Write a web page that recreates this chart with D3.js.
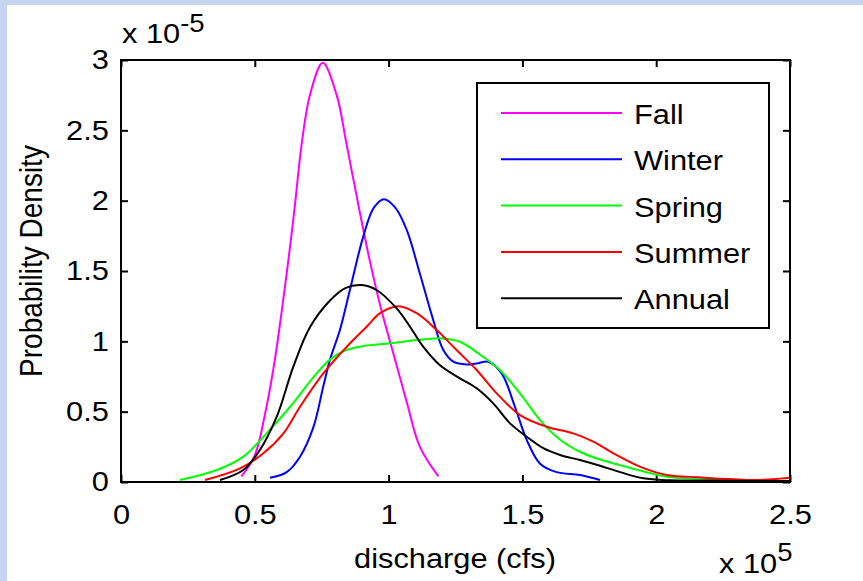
<!DOCTYPE html>
<html>
<head>
<meta charset="utf-8">
<script src="https://cdn.jsdelivr.net/npm/d3@7"></script>
<style>
  body { margin: 0; background: #c6d5f1; }
  svg { display: block; }
  text { font-family: "Liberation Sans", Arial, Helvetica, sans-serif; fill: #000; }
</style>
</head>
<body>
<div id="viz"></div>
<script>
// kernel density estimates of discharge, x in 1e5 cfs, y in 1e-5
var seasons = ["Fall", "Winter", "Spring", "Summer", "Annual"];
var lineColors = ["#ff00ff", "#0000ff", "#00ff00", "#ff0000", "#000000"];

var fallX = [0.45, 0.50, 0.54, 0.575, 0.625, 0.65, 0.675, 0.706, 0.754, 0.806, 0.843, 0.887, 0.93, 0.968, 1.005, 1.043, 1.069, 1.117, 1.186];
var fallY = [0.04, 0.19, 0.50, 0.87, 1.57, 1.97, 2.40, 2.75, 2.98, 2.75, 2.40, 1.97, 1.57, 1.26, 1.0, 0.74, 0.56, 0.25, 0.04];

var winterX = [0.557, 0.619, 0.669, 0.719, 0.756, 0.781, 0.818, 0.856, 0.906, 0.945, 0.983, 1.025, 1.068, 1.117, 1.167, 1.204, 1.242, 1.292, 1.335, 1.373, 1.423, 1.472, 1.516, 1.566, 1.628, 1.715, 1.79];
var winterY = [0.03, 0.07, 0.18, 0.39, 0.68, 0.87, 1.08, 1.37, 1.75, 1.95, 2.01, 1.95, 1.79, 1.48, 1.15, 0.94, 0.855, 0.835, 0.845, 0.855, 0.77, 0.535, 0.30, 0.13, 0.07, 0.05, 0.014];

var springX = [0.22, 0.358, 0.457, 0.544, 0.632, 0.731, 0.781, 0.831, 0.906, 1.005, 1.105, 1.204, 1.267, 1.342, 1.416, 1.491, 1.566, 1.641, 1.715, 1.79, 1.865, 1.952, 2.039, 2.164, 2.33];
var springY = [0.014, 0.085, 0.18, 0.346, 0.535, 0.772, 0.87, 0.93, 0.967, 0.986, 1.009, 1.021, 0.997, 0.905, 0.796, 0.63, 0.44, 0.30, 0.215, 0.16, 0.12, 0.075, 0.038, 0.024, 0.015];

var summerX = [0.314, 0.445, 0.532, 0.607, 0.669, 0.756, 0.843, 0.918, 0.968, 1.036, 1.105, 1.18, 1.254, 1.329, 1.404, 1.491, 1.591, 1.69, 1.765, 1.84, 1.939, 2.039, 2.164, 2.288, 2.375, 2.463, 2.5];
var summerY = [0.014, 0.097, 0.204, 0.346, 0.535, 0.772, 0.96, 1.104, 1.2, 1.25, 1.2, 1.08, 0.938, 0.796, 0.63, 0.476, 0.393, 0.346, 0.287, 0.204, 0.109, 0.05, 0.033, 0.019, 0.014, 0.024, 0.03];

var annualX = [0.37, 0.457, 0.519, 0.582, 0.644, 0.706, 0.781, 0.84, 0.899, 0.955, 1.03, 1.08, 1.13, 1.192, 1.267, 1.329, 1.391, 1.454, 1.516, 1.578, 1.641, 1.715, 1.79, 1.865, 1.952, 2.05, 2.2, 2.35, 2.5];
var annualY = [0.014, 0.085, 0.227, 0.464, 0.82, 1.10, 1.29, 1.38, 1.40, 1.365, 1.234, 1.104, 0.96, 0.83, 0.737, 0.666, 0.559, 0.417, 0.322, 0.24, 0.192, 0.156, 0.115, 0.07, 0.026, 0.012, 0.01, 0.008, 0.008];

var xTickValues = [0, 0.5, 1, 1.5, 2, 2.5];
var yTickValues = [0, 0.5, 1, 1.5, 2, 2.5, 3];

var seriesX = [fallX, winterX, springX, summerX, annualX];
var seriesY = [fallY, winterY, springY, summerY, annualY];

var width = 863, height = 581,
    plot = { left: 121, top: 60, right: 790, bottom: 482 },
    stretch = 'scale(1.1,1)';

var svg = d3.select('#viz').append('svg')
  .attr('width', width)
  .attr('height', height);

// white figure area
svg.append('rect')
  .attr('x', 7).attr('y', 5)
  .attr('width', width - 7).attr('height', height - 5)
  .attr('fill', '#fff');

var xScale = d3.scaleLinear().domain([0, 2.5]).range([plot.left, plot.right]);
var yScale = d3.scaleLinear().domain([0, 3]).range([plot.bottom, plot.top]);

// axes, ticks pointing inwards on all four sides
var xBottom = svg.append('g')
  .attr('transform', 'translate(0,' + plot.bottom + ')')
  .call(d3.axisBottom(xScale).tickValues(xTickValues).tickSizeInner(-7).tickSizeOuter(0)
    .tickPadding(22).tickFormat(d3.format('')));
var xTop = svg.append('g')
  .attr('transform', 'translate(0,' + plot.top + ')')
  .call(d3.axisTop(xScale).tickValues(xTickValues).tickSizeInner(-7).tickSizeOuter(0).tickFormat(''));
var yLeft = svg.append('g')
  .attr('transform', 'translate(' + plot.left + ',0)')
  .call(d3.axisLeft(yScale).tickValues(yTickValues).tickSizeInner(-7).tickSizeOuter(0)
    .tickPadding(11).tickFormat(d3.format('')));
var yRight = svg.append('g')
  .attr('transform', 'translate(' + plot.right + ',0)')
  .call(d3.axisRight(yScale).tickValues(yTickValues).tickSizeInner(-7).tickSizeOuter(0).tickFormat(''));

[xBottom, xTop, yLeft, yRight].forEach(function(g) {
  g.select('.domain').remove();
  g.selectAll('.tick line').attr('stroke', '#000').attr('stroke-width', 2);
  g.selectAll('.tick text')
    .attr('font-size', 28)
    .attr('font-family', '"Liberation Sans", Arial, sans-serif')
    .attr('fill', '#000')
    .attr('transform', stretch);
});

// density curves
var line = d3.line()
  .x(function(d) { return xScale(d[0]); })
  .y(function(d) { return yScale(d[1]); })
  .curve(d3.curveCatmullRom.alpha(0.5));

seasons.forEach(function(s, i) {
  var pts = seriesX[i].map(function(v, j) { return [v, seriesY[i][j]]; });
  svg.append('path')
    .datum(pts)
    .attr('d', line)
    .attr('fill', 'none')
    .attr('stroke', lineColors[i])
    .attr('stroke-width', 2);
});

// axes box
svg.append('rect')
  .attr('x', plot.left).attr('y', plot.top)
  .attr('width', plot.right - plot.left).attr('height', plot.bottom - plot.top)
  .attr('fill', 'none').attr('stroke', '#000').attr('stroke-width', 2);

// legend
var legend = svg.append('g');
legend.append('rect')
  .attr('x', 477).attr('y', 83)
  .attr('width', 292).attr('height', 245)
  .attr('fill', '#fff').attr('stroke', '#000').attr('stroke-width', 2);

var row = legend.selectAll('g.item').data(seasons)
  .enter().append('g')
  .attr('class', 'item')
  .attr('transform', function(d, i) { return 'translate(0,' + (113 + i * 46.3) + ')'; });
row.append('line')
  .attr('x1', 501).attr('x2', 622)
  .attr('stroke', function(d, i) { return lineColors[i]; })
  .attr('stroke-width', 2);
row.append('text')
  .attr('transform', 'translate(634,11) ' + stretch)
  .attr('font-size', 28)
  .text(function(d) { return d; });

// axis labels and exponents
svg.append('text')
  .attr('transform', 'translate(455,568) ' + stretch)
  .attr('text-anchor', 'middle')
  .attr('font-size', 28)
  .text('discharge (cfs)');

svg.append('text')
  .attr('transform', 'translate(42,261) rotate(-90) scale(1,1.1)')
  .attr('text-anchor', 'middle')
  .attr('font-size', 28)
  .text('Probability Density');

var yExp = svg.append('text')
  .attr('transform', 'translate(122,43) ' + stretch)
  .attr('font-size', 28);
yExp.append('tspan').text('x 10');
yExp.append('tspan').attr('dy', -11).attr('font-size', 25).text('-5');

var xExp = svg.append('text')
  .attr('transform', 'translate(719,573) ' + stretch)
  .attr('font-size', 28);
xExp.append('tspan').text('x 10');
xExp.append('tspan').attr('dy', -12).attr('font-size', 25).text('5');
</script>
</body>
</html>
